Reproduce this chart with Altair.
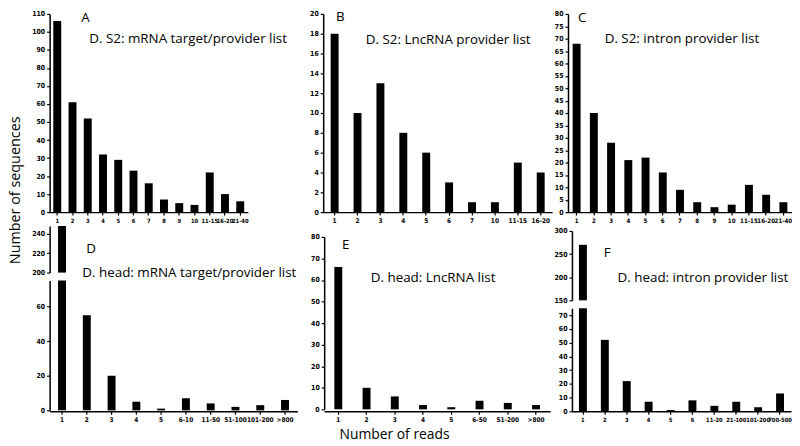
import altair as alt
import pandas as pd

# ---------------- data ----------------
a_cats = ["1", "2", "3", "4", "5", "6", "7", "8", "9", "10", "11-15", "16-20", "21-40"]
a_vals = [106, 61, 52, 32, 29, 23, 16, 7, 5, 4, 22, 10, 6]

b_cats = ["1", "2", "3", "4", "5", "6", "7", "10", "11-15", "16-20"]
b_vals = [18, 10, 13, 8, 6, 3, 1, 1, 5, 4]

c_cats = ["1", "2", "3", "4", "5", "6", "7", "8", "9", "10", "11-15", "16-20", "21-40"]
c_vals = [68, 40, 28, 21, 22, 16, 9, 4, 2, 3, 11, 7, 4]

d_cats = ["1", "2", "3", "4", "5", "6-10", "11-50", "51-100", "101-200", ">800"]
d_vals = [248, 55, 20, 5, 1, 7, 4, 2, 3, 6]

e_cats = ["1", "2", "3", "4", "5", "6-50", "51-200", ">800"]
e_vals = [66, 10, 6, 2, 1, 4, 3, 2]

f_cats = ["1", "2", "3", "4", "5", "6", "11-20", "21-100", "101-200", "700-500"]
f_vals = [270, 52, 22, 7, 1, 8, 4, 7, 3, 13]

titles = [
    "D. S2: mRNA target/provider list",
    "D. S2: LncRNA provider list",
    "D. S2: intron provider list",
    "D. head: mRNA target/provider list",
    "D. head: LncRNA list",
    "D. head: intron provider list",
]
letters = ["A", "B", "C", "D", "E", "F"]
y_title = "Number of sequences"
x_title = "Number of reads"

FONT = "Open Sans"
LAB = "Liberation Sans Narrow, DejaVu Sans Condensed, Liberation Sans, sans-serif"


def frame(cats, vals):
    return pd.DataFrame({"cat": cats, "val": vals})


def txt(s, x, y, size=13.5, angle=0, align="left"):
    return alt.Chart(pd.DataFrame({"t": [s]})).mark_text(
        align=align, baseline="middle", font=FONT, fontSize=size,
        color="black", angle=angle
    ).encode(x=alt.value(x), y=alt.value(y), text="t:N")


def xenc(cats, fs):
    return alt.X("cat:N", sort=cats, scale=alt.Scale(domain=cats),
                 axis=alt.Axis(labelAngle=0, title=None, labelOverlap=False,
                               labelFontSize=fs))


def simple(cats, vals, domain, ticks, w, h, rng=None, fs=6.5):
    if rng is not None:
        sc = alt.Scale(domain=domain, nice=False, range=rng)
    else:
        sc = alt.Scale(domain=domain, nice=False)
    return alt.Chart(frame(cats, vals)).mark_bar(size=8, color="black").encode(
        x=xenc(cats, fs),
        y=alt.Y("val:Q", scale=sc,
                axis=alt.Axis(values=ticks, title=None, labelOverlap=False)),
    ).properties(width=w, height=h)


def broken(cats, vals, up_dom, up_ticks, up_rng, lo_dom, lo_ticks, lo_rng, w, h, fs=6.5):
    base = alt.Chart(frame(cats, vals))
    up = base.transform_filter(alt.datum.val > up_dom[0]).mark_bar(
        size=8, color="black"
    ).encode(
        x=xenc(cats, fs),
        y=alt.Y("val:Q",
                scale=alt.Scale(domain=up_dom, range=up_rng, clamp=True,
                                zero=False, nice=False),
                axis=alt.Axis(values=up_ticks, title=None, orient="left",
                              labelOverlap=False)),
        y2=alt.datum(up_dom[0]),
    )
    lo = base.mark_bar(size=8, color="black").encode(
        x=xenc(cats, fs),
        y=alt.Y("val:Q",
                scale=alt.Scale(domain=lo_dom, range=lo_rng, clamp=True,
                                nice=False),
                axis=alt.Axis(values=lo_ticks, title=None, orient="left",
                              labelOverlap=False)),
    )
    return alt.layer(up, lo).resolve_scale(y="independent").properties(width=w, height=h)


# ---------------- top row ----------------
TH = 200
A = alt.layer(
    simple(a_cats, a_vals, [0, 110], list(range(0, 111, 10)), 200, TH, fs=5.8),
    txt(letters[0], 32, 4),
    txt(titles[0], 40, 25),
)
B = alt.layer(
    simple(b_cats, b_vals, [0, 20], list(range(0, 21, 2)), 231, TH),
    txt(letters[1], 13, 3),
    txt(titles[1], 43, 26),
)
C = alt.layer(
    simple(c_cats, c_vals, [0, 80], list(range(0, 81, 5)), 226, TH, fs=6.2),
    txt(letters[2], 10, 4),
    txt(titles[2], 37, 25),
)
top = alt.hconcat(alt.hconcat(A, B, spacing=22), C, spacing=2)

# ---------------- bottom row ----------------
BH = 187
D = alt.layer(
    broken(d_cats, d_vals, [200, 248], [200, 220, 240], [47, 0],
           [0, 75], [0, 20, 40, 60], [186, 55], 250, BH),
    txt(letters[3], 37, 23),
    txt(titles[3], 33, 47),
)
E = alt.layer(
    simple(e_cats, e_vals, [0, 80], list(range(0, 81, 10)), 228, BH, rng=[185, 11]),
    txt(letters[4], 18, 19),
    txt(titles[4], 47, 52),
    txt(x_title, 71, 211, size=14, align="center"),
)
F = alt.layer(
    broken(f_cats, f_vals, [150, 300], [150, 200, 250, 300], [75, 5],
           [0, 75], list(range(0, 71, 10)), [187, 83], 221, BH, fs=5.8),
    txt(letters[5], 32, 27),
    txt(titles[5], 46, 52),
)
bottom = alt.hconcat(alt.hconcat(D, E, spacing=13), F, spacing=3)

chart = alt.vconcat(top, bottom, spacing=2).properties(
    title=alt.TitleParams(y_title, orient="left", anchor="middle", font=FONT,
                          fontSize=14.5, fontWeight="normal", color="black",
                          offset=8, dx=36),
    padding=0, background="white",
).configure_view(
    stroke=None
).configure_axis(
    domainColor="black", domainWidth=1.5, tickColor="black", tickWidth=1.2,
    tickSize=3, labelFont=LAB, labelFontSize=7, labelFontWeight="bold",
    labelColor="black", grid=False, labelPadding=2
)

chart.save("out.html", embed_options={"renderer": "svg", "actions": False})
